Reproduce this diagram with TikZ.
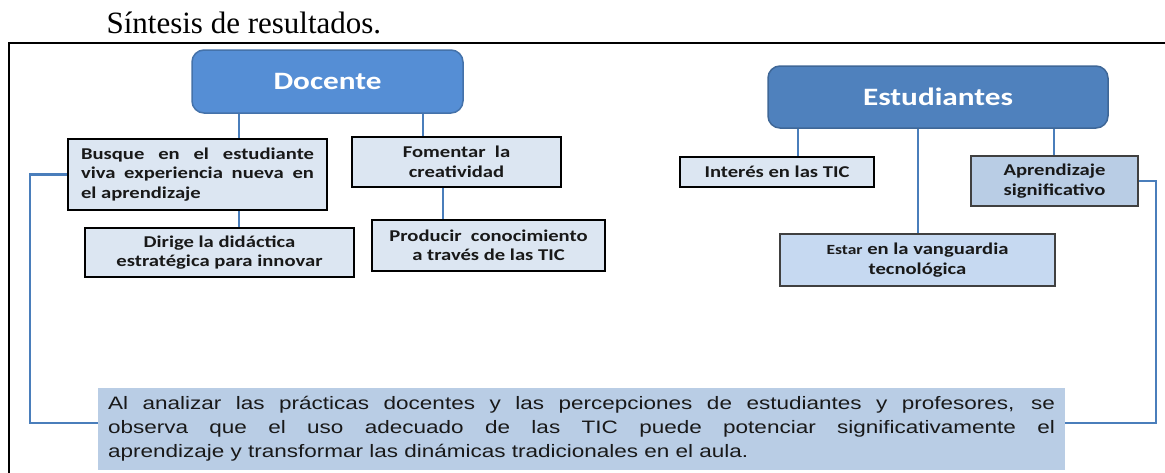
\documentclass[tikz,border=0pt]{standalone}
\usepackage{fontspec}
\setmainfont{Liberation Serif}
\newfontfamily\boxfont[FakeStretch=1.25]{Carlito}
\newfontfamily\notefont[FakeStretch=1.25]{Liberation Sans}
\definecolor{headA}{HTML}{558ED5}
\definecolor{headB}{HTML}{4F81BD}
\definecolor{leafA}{HTML}{DCE6F2}
\definecolor{leafB}{HTML}{C6D9F1}
\definecolor{leafC}{HTML}{B9CDE5}
\definecolor{linkblue}{HTML}{4A7EBB}

\begin{document}
\begin{tikzpicture}[x=1pt, y=-1pt,
  head/.style={draw=#1!80!black, fill=#1, line width=1.5pt, rounded corners=12pt, text=white,
    font=\boxfont\bfseries\fontsize{25}{28}\selectfont, inner sep=0pt},
  leaf/.style={draw=black, line width=2.6pt, fill=leafA, text=black!90,
    font=\boxfont\bfseries\fontsize{16.5}{19.5}\selectfont, align=center, inner sep=0pt},
  soft/.style={leaf, draw=black!75, line width=1.8pt, fill=#1},
  link/.style={draw=linkblue, line width=2.2pt},
  frame/.style={draw=black, line width=1.3pt}]
  \useasboundingbox (0,0) rectangle (1165,472);
  \draw[frame] (9,473) -- (9,43) -- (1166,43);
  \node[anchor=base west, font=\fontsize{31}{34}\selectfont] (title) at (103,33) {Síntesis de resultados.};

  \node[head=headA, minimum width=271pt, minimum height=63pt] (doc) at (327.5,81.5) {Docente};
  \node[leaf, minimum width=259pt, minimum height=71pt, text width=233pt, align=justify] (bus) at (197.5,174.5)
    {Busque en el estudiante\linebreak viva experiencia nueva en\linebreak el aprendizaje};
  \node[leaf, minimum width=269pt, minimum height=49pt] (dir) at (219.5,252.5) {Dirige la didáctica\\estratégica para innovar};
  \node[leaf, minimum width=209pt, minimum height=50pt] (fom) at (456.5,162) {Fomentar\ \ la\\creatividad};
  \node[leaf, minimum width=233pt, minimum height=51pt] (pro) at (488.5,245.5) {Producir\ \ conocimiento\\a través de las TIC};

  \node[head=headB, minimum width=340pt, minimum height=62pt] (est) at (938,97) {Estudiantes};
  \node[leaf, minimum width=194pt, minimum height=30pt] (int) at (777,172) {Interés en las TIC};
  \node[soft=leafB, minimum width=275pt, minimum height=52pt] (van) at (917.5,260)
    {{\fontsize{14}{19.5}\selectfont Estar} en la vanguardia\\tecnológica};
  \node[soft=leafC, minimum width=167pt, minimum height=50pt] (apr) at (1054.5,181) {Aprendizaje\\significativo};

  \node[fill=leafC, text=black!90, font=\notefont\fontsize{18}{24}\selectfont, text width=947pt, align=justify,
    inner xsep=10pt, inner ysep=0pt, minimum height=82pt] (sint) at (581.5,429)
    {Al analizar las prácticas docentes y las percepciones de estudiantes y profesores, se\linebreak
     observa que el uso adecuado de las TIC puede potenciar significativamente el\linebreak
     aprendizaje y transformar las dinámicas tradicionales en el aula.};

  \coordinate (xa) at (239,0);
  \coordinate (xb) at (423,0);
  \coordinate (xc) at (443,0);
  \coordinate (xd) at (798,0);
  \coordinate (xe) at (918,0);
  \coordinate (xf) at (1054,0);
  \coordinate (xl) at (30,0);
  \coordinate (xr) at (1156,0);
  \path[link]
    (doc.south -| xa) edge (bus.north -| xa)
    (bus.south -| xa) edge (dir.north -| xa)
    (doc.south -| xb) edge (fom.north -| xb)
    (fom.south -| xc) edge (pro.north -| xc)
    (est.south -| xd) edge (int.north -| xd)
    (est.south -| xe) edge (van.north -| xe)
    (est.south -| xf) edge (apr.north -| xf);
  \draw[link] (bus.west) -- (bus.west -| xl) |- ([yshift=6pt]sint.west);
  \draw[link] (apr.east) -- (apr.east -| xr) |- ([yshift=6pt]sint.east);
\end{tikzpicture}
\end{document}
